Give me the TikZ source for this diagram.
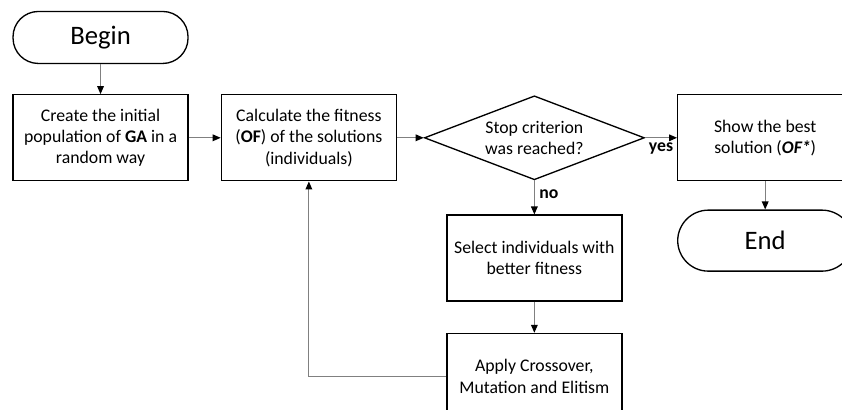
\documentclass[tikz,border=0pt]{standalone}
\usepackage{fontspec}
\setmainfont{Carlito}
\usepackage{tikz}
\usetikzlibrary{shapes.geometric, arrows.meta, positioning}
\tikzset{
    block/.style={rectangle, draw, line width=1pt, align=center, minimum width=131.25pt, minimum height=64.5pt, font=\fontsize{13.3}{16}\selectfont},
    terminal/.style={rectangle, draw, line width=1pt, rounded corners=19pt, minimum width=131.25pt, minimum height=39pt, font=\fontsize{20}{24}\selectfont},
    decision/.style={diamond, draw, line width=1pt, align=center, inner sep=0pt, aspect=2.6, minimum width=165pt, minimum height=63pt, font=\fontsize{13.3}{16}\selectfont},
    arrow/.style={draw=gray, line width=0.8pt, -{Triangle[color=black, length=6pt, width=5pt]}},
    answer/.style={font=\fontsize{13.3}{15}\selectfont\bfseries}
}
\begin{document}
\begin{tikzpicture}[node distance=22.5pt and 24pt]
			\path[use as bounding box, clip] (0,0) rectangle (631.5pt,-307.5pt);
			\node (begin) [terminal] at (75.4pt,-28.1pt) {Begin};
			\node (create) [block, below=of begin] {Create the initial\\population of \textbf{GA} in a\\random way};
			\node (calc) [block, right=of create] {Calculate the fitness\\(\textbf{OF}) of the solutions\\(individuals)};
			\node (stop) [decision, right=20pt of calc] {Stop criterion\\was reached?};
			\node (show) [block, right=of stop] {Show the best\\solution (\textbf{\textit{OF*}})};
			\node (select) [block, below=25.5pt of stop] {Select individuals with\\better fitness};
			\node (apply) [block, below=23.25pt of select] {Apply Crossover,\\Mutation and Elitism};
			\node (end) [terminal, rounded corners=23pt, minimum height=45.75pt, below=21pt of show] {End};
			
			\draw [arrow] (begin) -- (create);
			\draw [arrow] (create) -- (calc);
			\draw [arrow] (calc) -- (stop);
			\draw [arrow] (stop) -- node[answer, below] {yes} (show);
			\draw [arrow] (stop) -- node[answer, right, pos=0.4] {no} (select);
			\draw [arrow] (select) -- (apply);
			\draw [arrow] (show) -- (end);
			\draw [arrow] (apply.west) -| (calc.south);
		\end{tikzpicture}
\end{document}
